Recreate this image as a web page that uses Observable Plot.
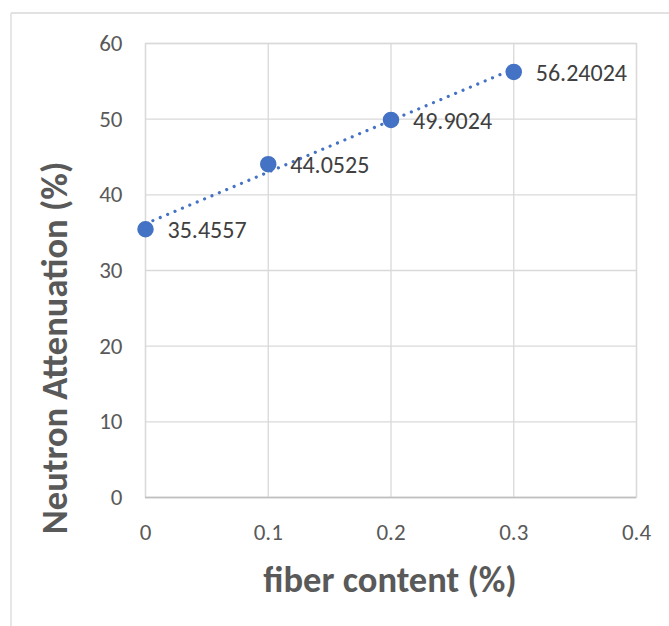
<!DOCTYPE html>
<html>
<head>
<meta charset="utf-8">
<script src="https://cdn.jsdelivr.net/npm/d3@7"></script>
<script src="https://cdn.jsdelivr.net/npm/@observablehq/plot@0.6"></script>
<style>
  html, body { margin: 0; padding: 0; background: #ffffff; }
  #chart { width: 669px; height: 626px; overflow: hidden; }
</style>
</head>
<body>
<div id="chart"></div>
<script>
// ---- data ----
const fiberContent = [0, 0.1, 0.2, 0.3];
const neutronAttenuation = [35.4557, 44.0525, 49.9024, 56.24024];
const pointLabels = ["35.4557", "44.0525", "49.9024", "56.24024"];
const xTicks = [0, 0.1, 0.2, 0.3, 0.4];
const yTicks = [0, 10, 20, 30, 40, 50, 60];
const xTitle = "fiber content (%)";
const yTitle = "Neutron Attenuation (%)";

const rows = fiberContent.map((f, i) => ({ fiber: f, att: neutronAttenuation[i], label: pointLabels[i] }));

const FONT = "Carlito, Calibri, 'Open Sans', sans-serif";
const BLUE = "#4472C4";

const chart = Plot.plot({
  width: 669,
  height: 626,
  marginLeft: 145,
  marginRight: 33,
  marginTop: 43,
  marginBottom: 129,
  style: { fontFamily: FONT, background: "#ffffff", color: "#595959" },
  x: { domain: [0, 0.4] },
  y: { domain: [0, 60] },
  marks: [
    Plot.gridX(xTicks, { stroke: "#d9d9d9", strokeOpacity: 1, strokeWidth: 1.3 }),
    Plot.gridY(yTicks, { stroke: "#d9d9d9", strokeOpacity: 1, strokeWidth: 1.3 }),
    Plot.frame({ stroke: "#d9d9d9", strokeWidth: 1.3 }),
    Plot.ruleY([0], { stroke: "#bfbfbf", strokeWidth: 1.3 }),
    Plot.axisX(xTicks, { tickSize: 0, tickPadding: 26, fontSize: 23, fill: "#595959", label: null, tickFormat: d => String(d) }),
    Plot.axisY(yTicks, { tickSize: 0, tickPadding: 23, fontSize: 23, fill: "#595959", label: null, tickFormat: d => String(d) }),
    Plot.linearRegressionY(rows, { x: "fiber", y: "att", ci: 0, stroke: BLUE, strokeWidth: 3.2, strokeDasharray: "0.01,8", strokeLinecap: "round" }),
    Plot.dot(rows, { x: "fiber", y: "att", r: 7.5, fill: BLUE, stroke: BLUE }),
    Plot.text(rows, { x: "fiber", y: "att", text: "label", textAnchor: "start", dx: 22, dy: 1, fontSize: 24, fill: "#404040" })
  ]
});

document.getElementById("chart").appendChild(chart);

// chart-area border and axis titles
const svg = d3.select(chart);
svg.append("line").attr("x1", 11).attr("y1", 13).attr("x2", 669).attr("y2", 13)
  .attr("stroke", "#d9d9d9").attr("stroke-width", 1.3);
svg.append("line").attr("x1", 11).attr("y1", 13).attr("x2", 11).attr("y2", 626)
  .attr("stroke", "#d9d9d9").attr("stroke-width", 1.3);

svg.append("text")
  .attr("x", 390).attr("y", 592)
  .attr("text-anchor", "middle")
  .attr("font-family", FONT).attr("font-weight", "bold").attr("font-size", 36.5)
  .attr("fill", "#595959")
  .text(xTitle);

svg.append("text")
  .attr("transform", "translate(54,348) rotate(-90)")
  .attr("text-anchor", "middle")
  .attr("dominant-baseline", "central")
  .attr("font-family", FONT).attr("font-weight", "bold").attr("font-size", 36.5)
  .attr("fill", "#595959")
  .text(yTitle);
</script>
</body>
</html>
